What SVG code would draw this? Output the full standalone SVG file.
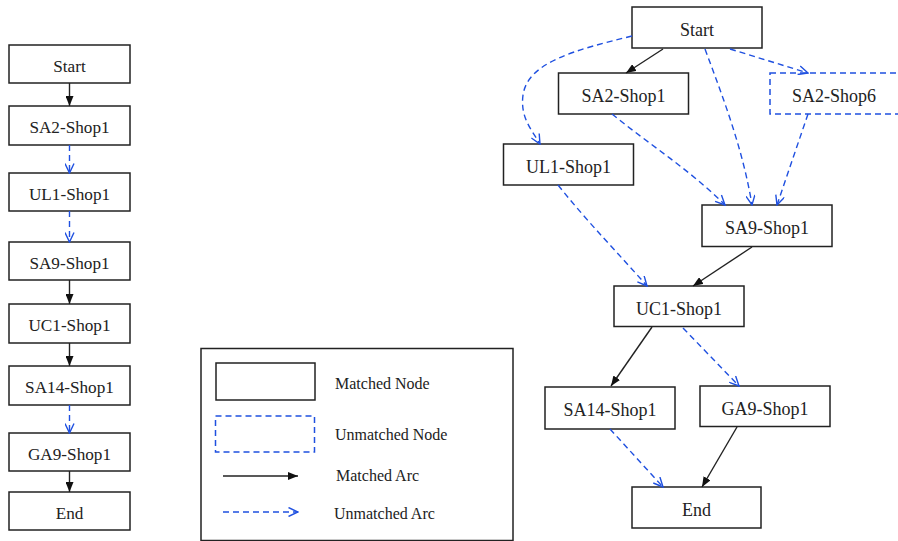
<svg xmlns="http://www.w3.org/2000/svg" width="898" height="541" viewBox="0 0 898 541">
<style>
.n rect{fill:#fff;stroke:#222;stroke-width:1.5}
.u rect{fill:#fff;stroke:#1f50e0;stroke-width:1.5;stroke-dasharray:6 4}
text{font-family:'Liberation Serif','Times New Roman','DejaVu Serif',serif;fill:#222}
.s text{font-size:17.2px;text-anchor:middle}
.b text{font-size:18px;text-anchor:middle}
.lg text{font-size:16px}
.m{fill:none;stroke:#222;stroke-width:1.4}
.d{fill:none;stroke:#1f50e0;stroke-width:1.4;stroke-dasharray:6 4}
</style>
<defs>
<marker id="ah" viewBox="0 0 10 8" refX="10" refY="4" markerUnits="userSpaceOnUse" markerWidth="10" markerHeight="8" orient="auto">
<path d="M0,0 L10,4 L0,8 z" fill="#111"/>
</marker>
<marker id="av" viewBox="0 0 11 10" refX="10" refY="5" markerUnits="userSpaceOnUse" markerWidth="11" markerHeight="10" orient="auto">
<path d="M0.5,0.5 L10,5 L0.5,9.5" fill="none" stroke="#1f50e0" stroke-width="1.4"/>
</marker>
</defs>
<rect width="898" height="541" fill="#fff"/>

<!-- Left column -->
<g class="s" font-family="Liberation Serif, serif">
<g id="L-start" class="n"><rect x="9" y="45" width="121" height="38"/><text x="69.5" y="72">Start</text></g>
<g id="L-sa2" class="n"><rect x="9" y="106" width="121" height="39"/><text x="69.5" y="133">SA2-Shop1</text></g>
<g id="L-ul1" class="n"><rect x="9" y="173" width="121" height="38"/><text x="69.5" y="200">UL1-Shop1</text></g>
<g id="L-sa9" class="n"><rect x="9" y="242" width="121" height="38"/><text x="69.5" y="269">SA9-Shop1</text></g>
<g id="L-uc1" class="n"><rect x="9" y="304" width="121" height="39"/><text x="69.5" y="331">UC1-Shop1</text></g>
<g id="L-sa14" class="n"><rect x="9" y="366" width="121" height="39"/><text x="69.5" y="393">SA14-Shop1</text></g>
<g id="L-ga9" class="n"><rect x="9" y="433" width="121" height="38"/><text x="69.5" y="460">GA9-Shop1</text></g>
<g id="L-end" class="n"><rect x="9" y="492" width="121" height="38"/><text x="69.5" y="519">End</text></g>
</g>

<!-- Right graph nodes -->
<g class="b" font-family="Liberation Serif, serif">
<g id="R-start" class="n"><rect x="632" y="7" width="130" height="41"/><text x="697" y="35.5">Start</text></g>
<g id="R-sa2" class="n"><rect x="558.5" y="73" width="130" height="41"/><text x="623.5" y="101.5">SA2-Shop1</text></g>
<g id="R-sa2s6" class="u"><rect x="770" y="73" width="130" height="41"/><text x="834" y="101.5">SA2-Shop6</text></g>
<g id="R-ul1" class="n"><rect x="503.5" y="144" width="130" height="41"/><text x="568.5" y="172.5">UL1-Shop1</text></g>
<g id="R-sa9" class="n"><rect x="702" y="205" width="130" height="41.5"/><text x="767" y="233.5">SA9-Shop1</text></g>
<g id="R-uc1" class="n"><rect x="614" y="286" width="130" height="40.5"/><text x="679" y="314.5">UC1-Shop1</text></g>
<g id="R-sa14" class="n"><rect x="545" y="387" width="130" height="42"/><text x="610" y="415.5">SA14-Shop1</text></g>
<g id="R-ga9" class="n"><rect x="700" y="386" width="130" height="40.5"/><text x="765" y="414.5">GA9-Shop1</text></g>
<g id="R-end" class="n"><rect x="632" y="487" width="129" height="41"/><text x="696.5" y="516">End</text></g>
</g>

<!-- Legend -->
<g id="legend" class="lg" font-family="Liberation Serif, serif">
<rect x="201" y="348.5" width="312" height="192" fill="#fff" stroke="#222" stroke-width="1.5"/>
<g id="lg-mnode" class="n"><rect x="216" y="363" width="99" height="37"/></g>
<g id="lg-unode" class="u"><rect x="215.5" y="416" width="99" height="36"/></g>
<text x="335" y="389">Matched Node</text>
<text x="335" y="440">Unmatched Node</text>
<text x="336" y="481">Matched Arc</text>
<text x="334" y="519">Unmatched Arc</text>
<line class="m" x1="223" y1="476" x2="298" y2="476" marker-end="url(#ah)"/>
<line class="d" x1="223" y1="512" x2="298" y2="512" marker-end="url(#av)"/>
</g>

<!-- Connectors -->
<g id="connectors">
<line class="m" x1="69.5" y1="83" x2="69.5" y2="106" marker-end="url(#ah)"/>
<line class="d" x1="69.5" y1="145" x2="69.5" y2="173" marker-end="url(#av)"/>
<line class="d" x1="69.5" y1="211" x2="69.5" y2="242" marker-end="url(#av)"/>
<line class="m" x1="69.5" y1="280" x2="69.5" y2="304" marker-end="url(#ah)"/>
<line class="m" x1="69.5" y1="343" x2="69.5" y2="366" marker-end="url(#ah)"/>
<line class="d" x1="69.5" y1="405" x2="69.5" y2="433" marker-end="url(#av)"/>
<line class="m" x1="69.5" y1="471" x2="69.5" y2="492" marker-end="url(#ah)"/>

<line class="m" x1="663" y1="49" x2="626" y2="73" marker-end="url(#ah)"/>
<path class="d" d="M632,36 C575,50 528,62 523,95 C520,118 532,130 540,144" marker-end="url(#av)"/>
<path class="d" d="M705,49 C724,100 743,150 752,205" marker-end="url(#av)"/>
<line class="d" x1="730" y1="49" x2="808" y2="73" marker-end="url(#av)"/>
<path class="d" d="M612,114 C650,145 690,170 725,205" marker-end="url(#av)"/>
<line class="d" x1="808" y1="114" x2="777" y2="205" marker-end="url(#av)"/>
<path class="d" d="M558,185 C590,225 620,255 647,286" marker-end="url(#av)"/>
<line class="m" x1="752" y1="247" x2="693" y2="286" marker-end="url(#ah)"/>
<line class="m" x1="652" y1="327" x2="611" y2="386" marker-end="url(#ah)"/>
<line class="d" x1="683" y1="328" x2="739" y2="386" marker-end="url(#av)"/>
<line class="d" x1="610" y1="429" x2="663" y2="487" marker-end="url(#av)"/>
<line class="m" x1="737" y1="427" x2="702" y2="487" marker-end="url(#ah)"/>
</g>
</svg>
